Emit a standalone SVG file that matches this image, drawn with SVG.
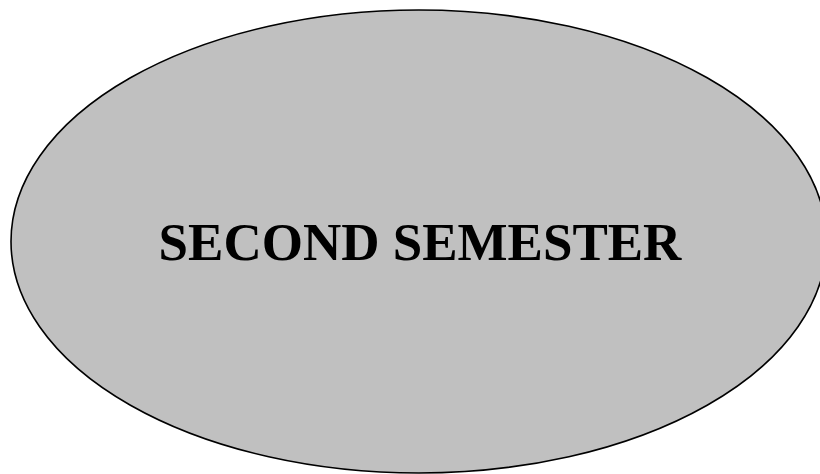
<svg xmlns="http://www.w3.org/2000/svg" width="820" height="474" viewBox="0 0 820 474">
<style>
.node{fill:#C0C0C0;stroke:#000;stroke-width:1.6}
.lbl{font-family:"Liberation Serif","Times New Roman",serif;font-weight:bold;font-size:53px;fill:#000}
</style>
<rect width="820" height="474" fill="#fff"/>
<g id="second-semester">
<ellipse class="node" cx="418.8" cy="241.5" rx="407.8" ry="231.5"/>
<text class="lbl" x="420" y="259.5" text-anchor="middle">SECOND SEMESTER</text>
</g>
<g id="connectors"/>
</svg>
